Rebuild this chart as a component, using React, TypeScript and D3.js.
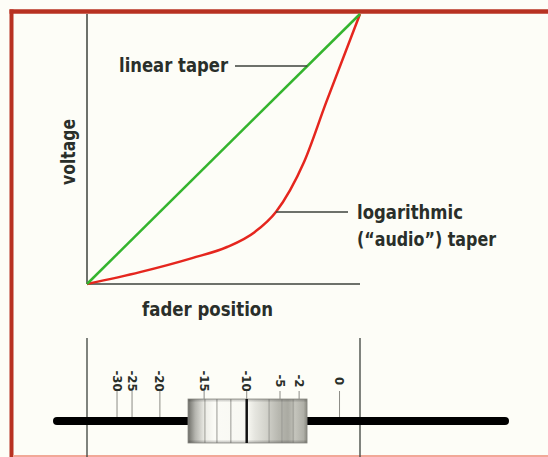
import React from "react";
import * as d3 from "d3";

// fader position (0..100) vs voltage (0..100)
const linearPos = [0, 100];
const linearVolt = [0, 100];
const logPos = [0, 19.4, 38.5, 51.3, 61.5, 69.2, 74.4, 79.5, 87.5, 100];
const logVolt = [0, 4.4, 9.6, 13.7, 19.3, 26.7, 34.8, 45.2, 67.0, 100];

// fader scale marks (dB) and their position along fader travel
const dbLabels = ["-30", "-25", "-20", "-15", "-10", "-5", "-2", "0"];
const dbPos = [11.0, 16.5, 26.7, 42.9, 58.5, 70.7, 77.7, 92.5];

// knob extent (in fader position units) and groove lines
const knobRange = [37.0, 80.6];
const knobCenter = 58.5;
const knobGrooves = [43.2, 47.6, 52.7, 66.7, 71.4, 75.5];

const W = 548;
const H = 457;
const FONT = "'Liberation Sans Narrow', 'DejaVu Sans Condensed', 'Roboto', sans-serif";
const TEXT = "#2a2f2a";
const AXIS = "#3d423d";

export default function App() {
  const x = d3.scaleLinear().domain([0, 100]).range([87, 360]);
  const y = d3.scaleLinear().domain([0, 100]).range([284, 14]);

  const line = d3
    .line<[number, number]>()
    .x((d) => x(d[0]))
    .y((d) => y(d[1]));
  const curve = d3
    .line<[number, number]>()
    .x((d) => x(d[0]))
    .y((d) => y(d[1]))
    .curve(d3.curveMonotoneX);

  const linData = linearPos.map((p, i) => [p, linearVolt[i]] as [number, number]);
  const logData = logPos.map((p, i) => [p, logVolt[i]] as [number, number]);

  const linAttach = 80.7; // voltage where pointer touches green line
  const logAttachPos = 69.2;
  const logAttachVolt = 26.7;

  const barY = 421;
  const knobTop = 399;
  const knobBot = 443;

  const txt = {
    fontFamily: FONT,
    fontWeight: "bold" as const,
    fontSize: 20,
    fill: TEXT,
    lengthAdjust: "spacingAndGlyphs" as const,
  };

  return (
    <svg
      width={W}
      height={H}
      style={{ position: "absolute", left: 0, top: 0, background: "#fdfdf7" }}
    >
      <defs>
        <linearGradient id="knobH" x1="0" x2="1" y1="0" y2="0">
          <stop offset="0" stopColor="#6e6e68" />
          <stop offset="0.06" stopColor="#b4b4ae" />
          <stop offset="0.14" stopColor="#ecece6" />
          <stop offset="0.22" stopColor="#fbfbf6" />
          <stop offset="0.5" stopColor="#f8f8f2" />
          <stop offset="0.56" stopColor="#e6e6e0" />
          <stop offset="0.66" stopColor="#d2d2cb" />
          <stop offset="0.76" stopColor="#b8b8b0" />
          <stop offset="0.84" stopColor="#aaaaa2" />
          <stop offset="0.9" stopColor="#c4c4bc" />
          <stop offset="0.97" stopColor="#b0b0a8" />
          <stop offset="1" stopColor="#88887f" />
        </linearGradient>
        <linearGradient id="knobV" x1="0" x2="0" y1="0" y2="1">
          <stop offset="0" stopColor="#000" stopOpacity="0.25" />
          <stop offset="0.08" stopColor="#000" stopOpacity="0" />
          <stop offset="0.92" stopColor="#000" stopOpacity="0" />
          <stop offset="1" stopColor="#000" stopOpacity="0.25" />
        </linearGradient>
      </defs>

      <rect x={0} y={0} width={W} height={H} fill="#fdfdf7" />

      {/* frame */}
      <line x1={9.5} x2={W} y1={11.5} y2={11.5} stroke="#b83222" strokeWidth={4.5} />
      <line x1={11.5} x2={11.5} y1={9.5} y2={H} stroke="#b83222" strokeWidth={4} />
      <line x1={13} x2={W} y1={456} y2={456} stroke="#f2a898" strokeWidth={2} />

      {/* axes */}
      <line x1={x(0)} x2={x(0)} y1={y(100)} y2={y(0)} stroke={AXIS} strokeWidth={1.5} />
      <line x1={x(0)} x2={x(100)} y1={y(0)} y2={y(0)} stroke={AXIS} strokeWidth={1.5} />

      {/* curves */}
      <path d={curve(logData) || ""} fill="none" stroke="#e5261e" strokeWidth={2.5} />
      <path d={line(linData) || ""} fill="none" stroke="#34b42e" strokeWidth={2.5} />

      {/* labels */}
      <text
        transform={`translate(75,152) rotate(-90)`}
        textAnchor="middle"
        textLength={66}
        {...txt}
      >
        voltage
      </text>
      <text x={142} y={316} textLength={131} {...txt}>
        fader position
      </text>

      <text x={119} y={72} textLength={109} {...txt}>
        linear taper
      </text>
      <line
        x1={235}
        x2={x(linAttach)}
        y1={y(linAttach)}
        y2={y(linAttach)}
        stroke={AXIS}
        strokeWidth={1.5}
      />

      <line
        x1={x(logAttachPos)}
        x2={348}
        y1={y(logAttachVolt)}
        y2={y(logAttachVolt)}
        stroke={AXIS}
        strokeWidth={1.5}
      />
      <text x={357} y={219} textLength={106} {...txt}>
        logarithmic
      </text>
      <text x={357} y={246} textLength={139} {...txt}>
        (“audio”) taper
      </text>

      {/* fader */}
      <line x1={x(0)} x2={x(0)} y1={338} y2={H} stroke={AXIS} strokeWidth={1.3} />
      <line x1={x(100)} x2={x(100)} y1={338} y2={H} stroke={AXIS} strokeWidth={1.3} />

      {dbPos.map((p, i) => (
        <g key={dbLabels[i]}>
          <line x1={x(p)} x2={x(p)} y1={391} y2={barY} stroke="#8c8c86" strokeWidth={1} />
          <text
            transform={`translate(${x(p)},381) rotate(90)`}
            textAnchor="middle"
            dominantBaseline="central"
            fontFamily={FONT}
            fontWeight="bold"
            fontSize={13}
            fill={TEXT}
          >
            {dbLabels[i]}
          </text>
        </g>
      ))}

      <line x1={57} x2={505} y1={barY} y2={barY} stroke="#000" strokeWidth={8} strokeLinecap="round" />

      <rect
        x={x(knobRange[0])}
        y={knobTop}
        width={x(knobRange[1]) - x(knobRange[0])}
        height={knobBot - knobTop}
        fill="url(#knobH)"
      />
      {knobGrooves.map((g) => (
        <line key={g} x1={x(g)} x2={x(g)} y1={knobTop} y2={knobBot} stroke="#9a9a94" strokeWidth={1} />
      ))}
      <rect
        x={x(knobRange[0])}
        y={knobTop}
        width={x(knobRange[1]) - x(knobRange[0])}
        height={knobBot - knobTop}
        fill="url(#knobV)"
        stroke="#8a8a84"
        strokeWidth={0.8}
      />
      <line
        x1={x(knobCenter)}
        x2={x(knobCenter)}
        y1={knobTop}
        y2={knobBot}
        stroke="#111"
        strokeWidth={2.5}
      />
    </svg>
  );
}
